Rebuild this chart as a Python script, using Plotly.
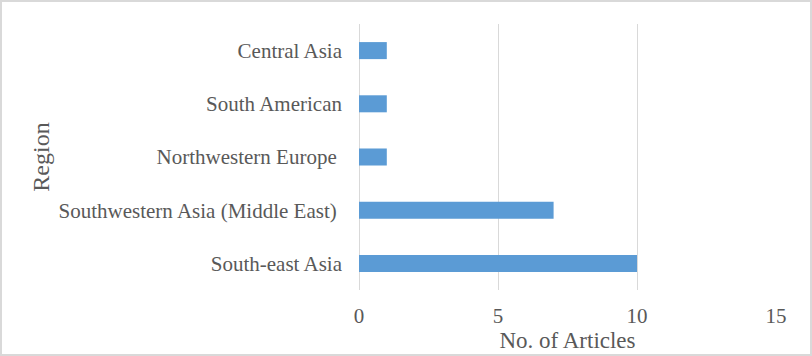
import plotly.graph_objects as go

regions = ["South-east Asia", "Southwestern Asia (Middle East)\u00a0", "Northwestern Europe\u00a0",
           "South American", "Central Asia"]
articles = [10, 7, 1, 1, 1]
x_ticks = [0, 5, 10, 15]

W, H = 812, 356
L, R, T, B = 359, 36, 24, 66
pw, ph = W - L - R, H - T - B

fig = go.Figure(go.Bar(
    y=regions, x=articles, orientation="h",
    marker=dict(color="#5B9BD5", line=dict(width=0)),
))

font_family = "Liberation Serif, Times New Roman, serif"
fig.update_layout(
    width=W, height=H,
    margin=dict(l=L, r=R, t=T, b=B, autoexpand=False),
    paper_bgcolor="white", plot_bgcolor="white",
    bargap=0.68,
    showlegend=False,
    font=dict(family=font_family, color="#595959", size=21),
    xaxis=dict(
        range=[0, 15], tickvals=x_ticks, showgrid=True, gridcolor="#d9d9d9", gridwidth=1,
        zeroline=True, zerolinecolor="#d9d9d9", zerolinewidth=1, showline=False,
        tickfont=dict(size=21), ticklabelstandoff=11,
        title=dict(text="No. of Articles", font=dict(size=23), standoff=2),
        fixedrange=True,
    ),
    yaxis=dict(
        showgrid=False, showline=False, zeroline=False,
        tickfont=dict(size=21), ticklabelstandoff=16,
        title=dict(text="Region", font=dict(size=24), standoff=2),
        fixedrange=True,
    ),
    shapes=[dict(
        type="rect", xref="paper", yref="paper",
        x0=(1 - L) / pw, x1=(W - L - 1) / pw,
        y0=-(B - 1) / ph, y1=(ph + T - 1) / ph,
        line=dict(color="#d9d9d9", width=2), fillcolor="rgba(0,0,0,0)", layer="below",
    )],
)

fig.write_html("out.html", config={"displayModeBar": False, "staticPlot": True})
with open("out.html", encoding="utf-8") as f:
    html = f.read()
html = html.replace("<head>", "<head><style>html,body{margin:0;padding:0;overflow:hidden}</style>", 1)
with open("out.html", "w", encoding="utf-8") as f:
    f.write(html)
